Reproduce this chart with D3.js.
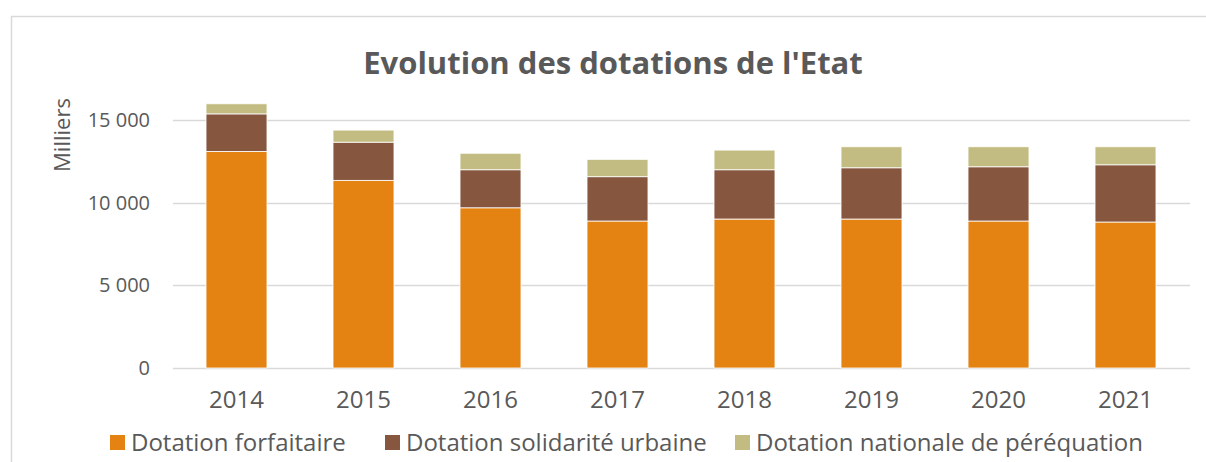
<!DOCTYPE html>
<html>
<head>
<meta charset="utf-8">
<script src="https://cdn.jsdelivr.net/npm/d3@7"></script>
<style>
  body { margin: 0; background: #fff; }
  svg { display: block; font-family: "Open Sans", sans-serif; }
</style>
</head>
<body>
<div id="chart"></div>
<script>
var years = ['2014', '2015', '2016', '2017', '2018', '2019', '2020', '2021'];
var seriesNames = ['Dotation forfaitaire', 'Dotation solidarité urbaine', 'Dotation nationale de péréquation'];
var forfaitaire = [13100, 11350, 9690, 8890, 9010, 9010, 8890, 8830];
var solidarite = [2270, 2310, 2300, 2680, 2980, 3100, 3280, 3460];
var perequation = [610, 730, 1000, 1050, 1190, 1270, 1210, 1090];
var yTicks = [0, 5000, 10000, 15000];

var colours = ['#e48312', '#86563f', '#c3bc82'];

var width = 1206, height = 462;

var svg = d3.select('#chart')
  .append('svg')
  .attr('width', width)
  .attr('height', height);

// chart frame
svg.append('rect')
  .attr('x', 11.5)
  .attr('y', 16.5)
  .attr('width', 1200)
  .attr('height', 460)
  .attr('fill', '#fff')
  .attr('stroke', '#d9d9d9')
  .attr('stroke-width', 1.5);

var x = d3.scaleBand()
  .domain(years)
  .range([173, 1189])
  .paddingInner(0.52)
  .paddingOuter(0.26);

var y = d3.scaleLinear()
  .domain([0, 15000])
  .range([368, 120]);

// gridlines
svg.append('g')
  .selectAll('line')
  .data(yTicks)
  .enter()
  .append('line')
  .attr('x1', 173)
  .attr('x2', 1190)
  .attr('y1', function(d) { return Math.round(y(d)) + 0.5; })
  .attr('y2', function(d) { return Math.round(y(d)) + 0.5; })
  .attr('stroke', '#d9d9d9')
  .attr('stroke-width', 1.5);

// stacked bars
var rows = years.map(function(yr, i) {
  return { year: yr, f: forfaitaire[i], s: solidarite[i], p: perequation[i] };
});
var stack = d3.stack().keys(['f', 's', 'p']);
var layers = stack(rows);

svg.append('g')
  .selectAll('g')
  .data(layers)
  .enter()
  .append('g')
  .attr('fill', function(d, i) { return colours[i]; })
  .selectAll('rect')
  .data(function(d) { return d; })
  .enter()
  .append('rect')
  .attr('x', function(d) { return x(d.data.year); })
  .attr('width', x.bandwidth())
  .attr('y', function(d) { return y(d[1]); })
  .attr('height', function(d) { return y(d[0]) - y(d[1]); })
  .attr('stroke', '#fff')
  .attr('stroke-width', 0.8);

// y axis
var yAxis = d3.axisLeft(y)
  .tickValues(yTicks)
  .tickSize(0)
  .tickPadding(0)
  .tickFormat(function(d) { return d3.format(',')(d).replace(/,/g, ' '); });

var yg = svg.append('g')
  .attr('transform', 'translate(150,0)')
  .call(yAxis);
yg.select('.domain').remove();
yg.selectAll('text')
  .attr('fill', '#595959')
  .style('font-size', '20px')
  .style('font-family', '"Open Sans", sans-serif');

// x axis
var xAxis = d3.axisBottom(x).tickSize(0).tickPadding(0);
var xg = svg.append('g')
  .attr('transform', 'translate(0,391)')
  .call(xAxis);
xg.select('.domain').remove();
xg.selectAll('text')
  .attr('fill', '#595959')
  .style('font-size', '24px')
  .style('font-family', '"Open Sans", sans-serif');

// title
svg.append('text')
  .attr('x', 613)
  .attr('y', 74)
  .attr('text-anchor', 'middle')
  .attr('fill', '#595959')
  .style('font-size', '31px')
  .style('font-weight', 'bold')
  .text("Evolution des dotations de l'Etat");

// axis title
svg.append('text')
  .attr('transform', 'translate(70,135) rotate(-90)')
  .attr('text-anchor', 'middle')
  .attr('fill', '#595959')
  .style('font-size', '22px')
  .text('Milliers');

// legend
var legendX = [110, 385, 735];
var legend = svg.append('g')
  .selectAll('g')
  .data(seriesNames)
  .enter()
  .append('g')
  .attr('transform', function(d, i) { return 'translate(' + legendX[i] + ',435)'; });

legend.append('rect')
  .attr('width', 15)
  .attr('height', 15)
  .attr('fill', function(d, i) { return colours[i]; });

legend.append('text')
  .attr('x', 21)
  .attr('y', 16)
  .attr('fill', '#595959')
  .style('font-size', '24px')
  .text(function(d) { return d; });
</script>
</body>
</html>
